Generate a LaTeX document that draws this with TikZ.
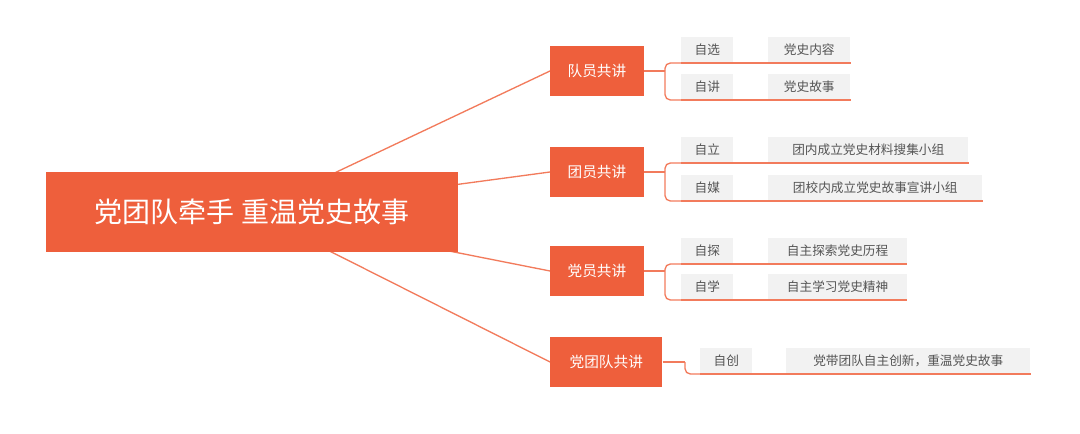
\documentclass[tikz,border=0pt]{standalone}
\usepackage{fontspec}
\setmainfont{Noto Sans CJK SC}
\usetikzlibrary{backgrounds}
\definecolor{mapred}{HTML}{EE5F3C}
\definecolor{maplink}{HTML}{F27B5C}
\definecolor{leafgray}{HTML}{F2F2F2}
\definecolor{leaftext}{HTML}{555555}

\begin{document}
\begin{tikzpicture}[x=0.75pt,y=-0.75pt,
    root/.style={fill=mapred,text=white,font=\fontsize{21}{24}\selectfont,minimum width=309pt,minimum height=60pt,inner sep=0pt},
    branch/.style={fill=mapred,text=white,font=\fontsize{11}{13}\selectfont,minimum width=70pt,minimum height=38pt,inner sep=0pt,anchor=west},
    leaf/.style={fill=leafgray,text=leaftext,font=\fontsize{9.5}{11}\selectfont,minimum width=39pt,minimum height=19.5pt,inner sep=0pt,anchor=south west},
    item/.style={leaf,minimum width=#1},
    link/.style={maplink,line width=1pt}]
    \useasboundingbox (0,0) rectangle (1080,434);

    % Centre
    \node[root] (theme) at (252,212) {党团队牵手 重温党史故事};

    % Branches
    \node[branch] (dui) at (550,71) {队员共讲};
    \node[branch] (tuan) at (550,172) {团员共讲};
    \node[branch] (dang) at (550,271) {党员共讲};
    \node[branch,minimum width=84pt] (all) at (550,362) {党团队共讲};

    \begin{pgfonlayer}{background}
        \draw[link] (theme.center) -- (dui.west);
        \draw[link] (theme.center) -- (tuan.west);
        \draw[link] (theme.center) -- (dang.west);
        \draw[link] (theme.center) -- (all.west);
    \end{pgfonlayer}

    % Leaves, first column
    \node[leaf] (dui1) at (681,63) {自选};
    \node[leaf] (dui2) at (681,100) {自讲};
    \node[leaf] (tuan1) at (681,163) {自立};
    \node[leaf] (tuan2) at (681,201) {自媒};
    \node[leaf] (dang1) at (681,264) {自探};
    \node[leaf] (dang2) at (681,300) {自学};
    \node[leaf] (all1) at (700,374) {自创};

    % Leaves, second column
    \node[item=61.5pt] (dui1t) at (768,63) {党史内容};
    \node[item=61.5pt] (dui2t) at (768,100) {党史故事};
    \node[item=150pt] (tuan1t) at (768,163) {团内成立党史材料搜集小组};
    \node[item=160.5pt] (tuan2t) at (768,201) {团校内成立党史故事宣讲小组};
    \node[item=104pt] (dang1t) at (768,264) {自主探索党史历程};
    \node[item=104pt] (dang2t) at (768,300) {自主学习党史精神};
    \node[item=183pt] (all1t) at (786,374) {党带团队自主创新，重温党史故事};

    % Junctions
    \coordinate (duij) at (665,71);
    \coordinate (tuanj) at (665,172);
    \coordinate (dangj) at (665,271);
    \coordinate (allj) at (685,362);

    % Connectors
    \foreach \b/\j in {dui/duij,tuan/tuanj,dang/dangj,all/allj}
        \draw[link] (\b.east) -- (\j);
    \foreach \j/\l in {duij/dui1,duij/dui2,tuanj/tuan1,tuanj/tuan2,dangj/dang1,dangj/dang2,allj/all1}
        \draw[link,rounded corners=4pt] (\j) |- (\l.south west);
    \foreach \l in {dui1,dui2,tuan1,tuan2,dang1,dang2,all1}
        \draw[link] (\l.south west) -- (\l t.south east);
\end{tikzpicture}
\end{document}
